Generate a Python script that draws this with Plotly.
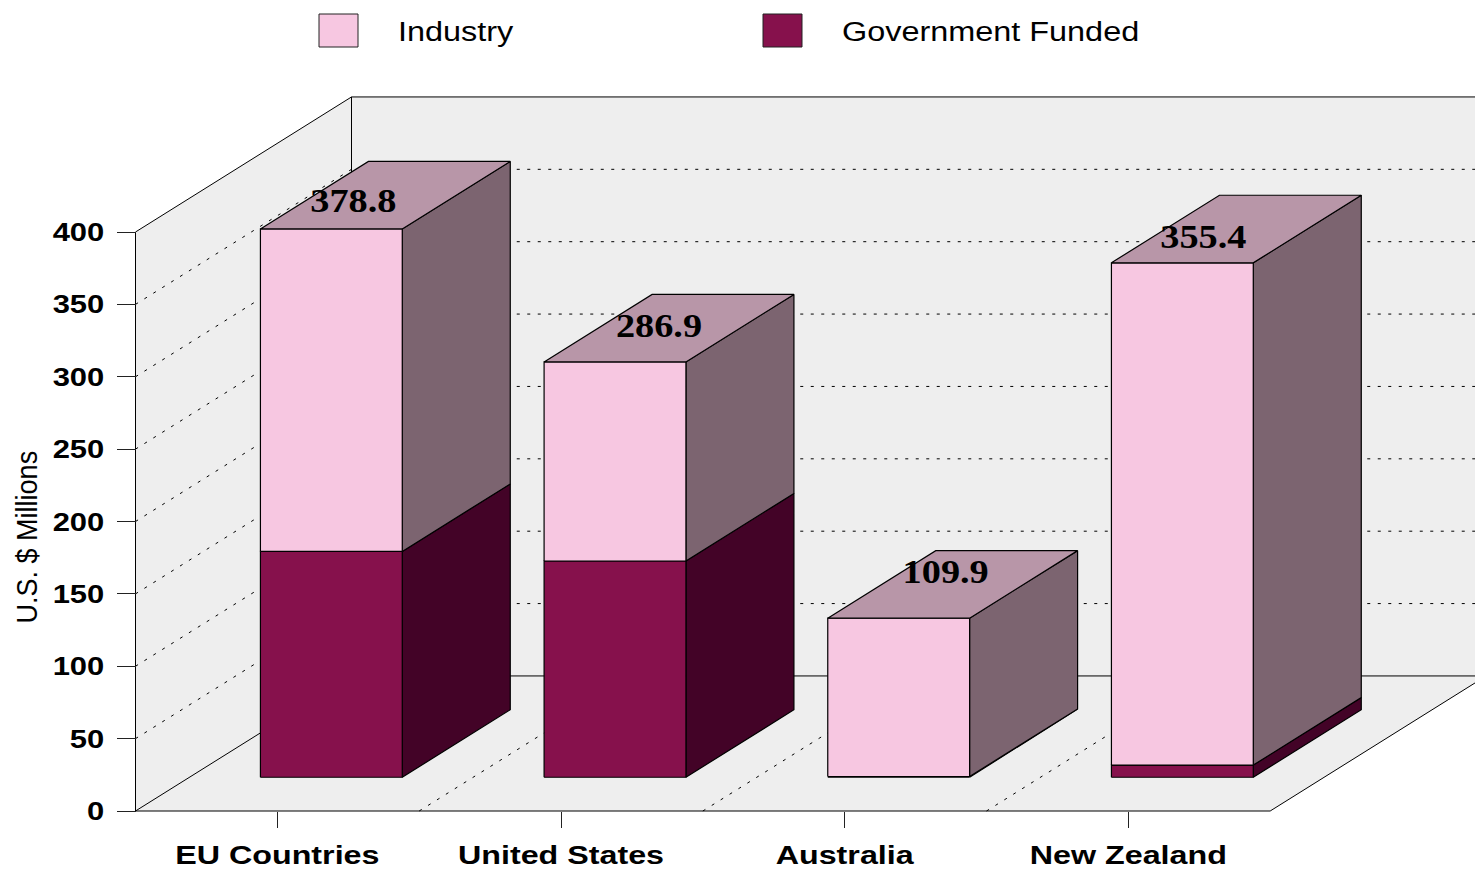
import plotly.graph_objects as go

categories = ["EU Countries", "United States", "Australia", "New Zealand"]
industry = [222.8, 137.5, 109.4, 347.0]
government = [156.0, 149.4, 0.5, 8.4]
totals = [378.8, 286.9, 109.9, 355.4]
y_ticks = [0, 50, 100, 150, 200, 250, 300, 350, 400]

# oblique projection, in axis units
DX, DY = 0.7615, 93.3
BAR_HALF = 0.25
D0, D1 = 0.25, 0.75
LEFT, RIGHT = -0.5, 3.5
X_PER_PX, Y_PER_PX = 1 / 283.67, 1 / 1.4475
SANS = "Liberation Sans"
EDGE = "#000000"


def P(x, v, d=0.0):
    return x + d * DX, v + d * DY


def polys(list_of_pts):
    xs, ys = [], []
    for pts in list_of_pts:
        pts = pts + [pts[0]]
        xs += [p[0] for p in pts] + [None]
        ys += [p[1] for p in pts] + [None]
    return xs, ys


def segs(list_of_pts):
    xs, ys = [], []
    for pts in list_of_pts:
        xs += [p[0] for p in pts] + [None]
        ys += [p[1] for p in pts] + [None]
    return xs, ys


fig = go.Figure()

# walls and floor
wall = polys([
    [P(LEFT, 0), P(LEFT, 400), P(LEFT, 400, 1), P(RIGHT, 400, 1), P(RIGHT, 0, 1), P(RIGHT, 0), P(LEFT, 0)],
])
fig.add_trace(go.Scatter(x=wall[0], y=wall[1], mode="none", fill="toself", fillcolor="#EEEEEE",
                         showlegend=False, hoverinfo="skip"))

grid_sets = []
for v in y_ticks[1:-1]:
    grid_sets.append([P(LEFT, v), P(LEFT, v, 1), P(RIGHT, v, 1)])
for i in range(1, 4):
    grid_sets.append([P(LEFT + i, 0), P(LEFT + i, 0, 1)])
gx, gy = segs(grid_sets)
fig.add_trace(go.Scatter(x=gx, y=gy, mode="lines", line=dict(color="#000000", width=1, dash="3px,7.5px"),
                         showlegend=False, hoverinfo="skip"))

edge = segs([
    [P(LEFT, 0), P(LEFT, 400), P(LEFT, 400, 1), P(RIGHT, 400, 1)],
    [P(LEFT, 400, 1), P(LEFT, 0, 1), P(RIGHT, 0, 1)],
    [P(LEFT, 0), P(LEFT, 0, 1)],
    [P(LEFT, 0), P(RIGHT, 0), P(RIGHT, 0, 1)],
])
fig.add_trace(go.Scatter(x=edge[0], y=edge[1], mode="lines", line=dict(color=EDGE, width=1),
                         showlegend=False, hoverinfo="skip"))


def add_faces(name, lows, highs, front, side, top=None):
    f, s, t = [], [], []
    for i, (lo, hi) in enumerate(zip(lows, highs)):
        a, b = i - BAR_HALF, i + BAR_HALF
        f.append([P(a, lo, D0), P(b, lo, D0), P(b, hi, D0), P(a, hi, D0)])
        s.append([P(b, lo, D0), P(b, lo, D1), P(b, hi, D1), P(b, hi, D0)])
        t.append([P(a, hi, D0), P(b, hi, D0), P(b, hi, D1), P(a, hi, D1)])
    for faces, color in ((s, side), (f, front)) + (((t, top),) if top else ()):
        xs, ys = polys(faces)
        fig.add_trace(go.Scatter(x=xs, y=ys, mode="lines", fill="toself", fillcolor=color,
                                 line=dict(color=EDGE, width=1.2), name=name,
                                 showlegend=False, hoverinfo="skip"))


tops = [g + n for g, n in zip(government, industry)]
add_faces("Government Funded", [0] * 4, government, "#86114C", "#430327")
add_faces("Industry", government, tops, "#F7C7E1", "#7C6470", "#B896A8")

# value labels sit on the top faces
shift_x = [22, 44, 47, 21]
shift_y = [25, 33, 43, 23]
lab_x = [P(i, 0, D0)[0] + shift_x[i] * X_PER_PX for i in range(4)]
lab_y = [P(0, tops[i], D0)[1] + shift_y[i] * Y_PER_PX for i in range(4)]
fig.add_trace(go.Scatter(x=lab_x, y=lab_y, mode="text", text=[f"{t:.1f}" for t in totals],
                         textposition="middle center", cliponaxis=False,
                         textfont=dict(family="Liberation Serif", size=33, color="#000000", weight="bold"),
                         showlegend=False, hoverinfo="skip"))

W, H = 1475, 869
ML, MR, MT, MB = 130, 0, 90, 54
pw, ph = W - ML - MR, H - MT - MB
PX0, PY0 = 135.5, 811
x0 = LEFT - (PX0 - ML) * X_PER_PX
x1 = x0 + pw * X_PER_PX
y0 = -(H - MB - PY0) * Y_PER_PX
y1 = y0 + ph * Y_PER_PX

fig.update_layout(
    width=W, height=H, margin=dict(l=ML, r=MR, t=MT, b=MB, autoexpand=False),
    paper_bgcolor="white", plot_bgcolor="white", showlegend=False,
    xaxis=dict(range=[x0, x1], tickmode="array", tickvals=list(range(4)), ticktext=categories,
               ticks="outside", ticklen=16, tickcolor="#222222", tickwidth=1, showgrid=False, zeroline=False,
               showline=False, anchor="free", position=(H - MB - PY0) / ph, ticklabelstandoff=5,
               tickfont=dict(family=SANS, size=26, color="#000000", weight="bold"), fixedrange=True),
    yaxis=dict(range=[y0, y1], tickmode="array", tickvals=y_ticks,
               ticks="outside", ticklen=19, tickcolor="#222222", tickwidth=1, showgrid=False, zeroline=False,
               showline=False, anchor="free", position=(PX0 - ML) / pw, ticklabelstandoff=7,
               tickfont=dict(family=SANS, size=26, color="#000000", weight="bold"), fixedrange=True),
)


def px(x):
    return (x - ML) / pw


def py(y):
    return (H - MB - y) / ph


legend_items = [("Industry", "#F7C7E1", 319, 398), ("Government Funded", "#86114C", 763, 842)]
for label, color, sx, tx in legend_items:
    fig.add_shape(type="rect", xref="paper", yref="paper", x0=px(sx), x1=px(sx + 39), y0=py(47), y1=py(14),
                  fillcolor=color, line=dict(color="#222222", width=1))
    fig.add_annotation(xref="paper", yref="paper", x=px(tx), y=py(32), text=label, showarrow=False,
                       xanchor="left", yanchor="middle", xshift=-2, align="left",
                       font=dict(family=SANS, size=27, color="#000000"))

fig.add_annotation(xref="paper", yref="paper", x=px(26), y=py(537), text="U.S. $ Millions", showarrow=False,
                   textangle=-90, xanchor="center", yanchor="middle",
                   font=dict(family=SANS, size=30, color="#000000"))

# the reference's type is drawn horizontally stretched: keep the text real, widen the glyphs
post = """
document.body.style.margin='0';document.body.style.overflow='hidden';
function stretch(){
  var gd=document.getElementById('{plot_id}');
  var rules=[['.xtick text',1.24],['.ytick text',1.19],['.textpoint text',1.16]];
  rules.forEach(function(r){gd.querySelectorAll(r[0]).forEach(function(t){
    if(t.hasAttribute('textLength'))return;
    t.setAttribute('textLength',t.getComputedTextLength()*r[1]);
    t.setAttribute('lengthAdjust','spacingAndGlyphs');});});
  gd.querySelectorAll('.annotation-text').forEach(function(t){
    if(t.hasAttribute('textLength'))return;
    var k=t.textContent.indexOf('Millions')>=0?0.90:1.2;
    t.setAttribute('textLength',t.getComputedTextLength()*k);
    t.setAttribute('lengthAdjust','spacingAndGlyphs');});
}
stretch();setTimeout(stretch,30);setTimeout(stretch,200);
"""
fig.write_html("out.html", config={"displayModeBar": False}, post_script=post)
